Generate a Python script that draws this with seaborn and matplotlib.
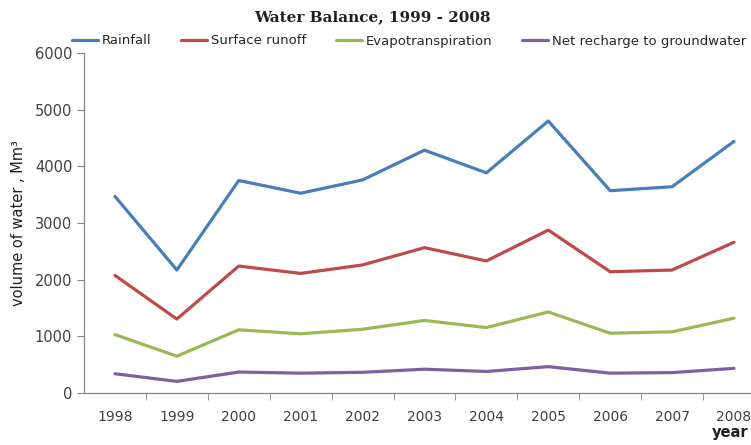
import pandas as pd
import numpy as np
import matplotlib.pyplot as plt
import matplotlib.ticker as ticker
import seaborn as sns

years = ['1998', '1999', '2000', '2001', '2002', '2003', '2004', '2005', '2006', '2007', '2008']
rainfall = [3470, 2170, 3750, 3525, 3760, 4285, 3885, 4800, 3570, 3640, 4440]
runoff = [2075, 1305, 2240, 2110, 2260, 2565, 2330, 2875, 2140, 2170, 2660]
evapo = [1030, 650, 1115, 1045, 1125, 1280, 1155, 1430, 1055, 1080, 1320]
recharge = [340, 205, 370, 350, 365, 420, 380, 465, 350, 360, 435]

series = ['Rainfall', 'Surface runoff', 'Evapotranspiration', 'Net recharge to groundwater']
colors = ['#4A7EBB', '#BE4B48', '#98B954', '#7D60A0']

rows = []
for name, vals in zip(series, [rainfall, runoff, evapo, recharge]):
    for i, v in enumerate(vals):
        rows.append({'idx': i, 'value': v, 'series': name})
df = pd.DataFrame(rows)

sns.set_style("white")
plt.rcParams['font.family'] = ['DejaVu Sans']

fig = plt.figure(figsize=(7.51, 4.45), dpi=100)
ax = fig.add_axes([84 / 751, 1 - 393 / 445, 1 - 84 / 751, 340 / 445])

sns.lineplot(data=df, x='idx', y='value', hue='series', hue_order=series,
             palette=colors, linewidth=2.3, ax=ax, legend=False)

ax.set_xlim(-0.5, (751 - 115) / 61.9)
ax.set_ylim(0, 6000)
ax.set_xticks(range(len(years)))
ax.set_xticklabels(years)
ax.xaxis.set_minor_locator(ticker.FixedLocator(np.arange(0.5, 10.5, 1)))
ax.yaxis.set_major_locator(ticker.MultipleLocator(1000))
ax.tick_params(axis='x', which='major', length=0, pad=12, labelsize=10, colors='#404040')
ax.tick_params(axis='x', which='minor', length=5, color='#868686', direction='out')
ax.tick_params(axis='y', length=5, color='#868686', direction='out', labelsize=10.5,
               colors='#404040', left=True)
ax.tick_params(axis='x', which='minor', bottom=True)
for s in ['top', 'right']:
    ax.spines[s].set_visible(False)
for s in ['left', 'bottom']:
    ax.spines[s].set_color('#868686')
    ax.spines[s].set_linewidth(0.9)

ax.set_xlabel('')
ax.set_ylabel('volume of water , Mm³', fontsize=10.5, color='#202020', labelpad=6)
fig.text(730 / 751, 1 - 433 / 445, 'year', fontsize=10.5, fontweight='bold',
         ha='center', va='center', color='#202020')

fig.suptitle('Water Balance, 1999 - 2008', x=372 / 751, y=1 - 17 / 445, va='center',
             fontsize=11, fontweight='bold', family='DejaVu Serif', color='#202020')

handles = [plt.Line2D([], [], color=c, linewidth=2.3) for c in colors]
fig.legend(handles, series, loc='center', bbox_to_anchor=(409 / 751, 1 - 41 / 445),
           ncol=4, frameon=False, fontsize=9.5, handlelength=2.0, handletextpad=0.3,
           columnspacing=2.2)

fig.savefig('out.png', dpi=100)
